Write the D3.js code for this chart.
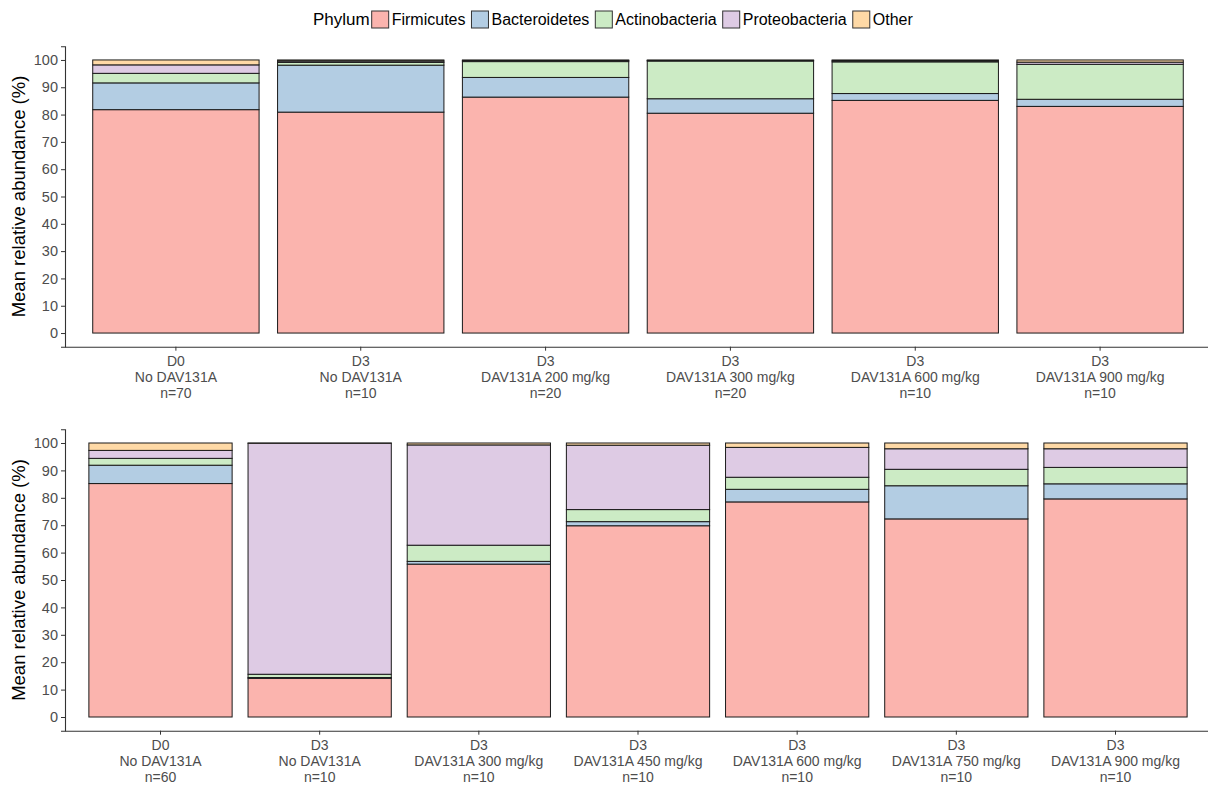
<!DOCTYPE html>
<html>
<head>
<meta charset="utf-8">
<script src="https://cdn.jsdelivr.net/npm/d3@7"></script>
<style>
  body { margin: 0; background: #fff; }
  svg { font-family: "Liberation Sans", Arial, sans-serif; }
</style>
</head>
<body>
<div id="chart"></div>
<script>
// phyla, stacked from the bottom up
var phyla = ["Firmicutes", "Bacteroidetes", "Actinobacteria", "Proteobacteria", "Other"];
var colors = ["#FBB4AE", "#B3CDE3", "#CCEBC5", "#DECBE4", "#FED9A6"];

// top panel groups (day / treatment / n)
var topGroups = [
  ["D0", "No DAV131A", "n=70"],
  ["D3", "No DAV131A", "n=10"],
  ["D3", "DAV131A 200 mg/kg", "n=20"],
  ["D3", "DAV131A 300 mg/kg", "n=20"],
  ["D3", "DAV131A 600 mg/kg", "n=10"],
  ["D3", "DAV131A 900 mg/kg", "n=10"]
];
// mean relative abundance per group, in phyla order
var topValues = [
  [81.8, 9.8, 3.5, 3.1, 1.8],
  [80.9, 17.2, 1.0, 0.5, 0.4],
  [86.4, 7.2, 5.8, 0.4, 0.2],
  [80.5, 5.3, 13.8, 0.2, 0.2],
  [85.2, 2.5, 11.6, 0.4, 0.3],
  [83.0, 2.6, 12.8, 0.8, 0.8]
];

var bottomGroups = [
  ["D0", "No DAV131A", "n=60"],
  ["D3", "No DAV131A", "n=10"],
  ["D3", "DAV131A 300 mg/kg", "n=10"],
  ["D3", "DAV131A 450 mg/kg", "n=10"],
  ["D3", "DAV131A 600 mg/kg", "n=10"],
  ["D3", "DAV131A 750 mg/kg", "n=10"],
  ["D3", "DAV131A 900 mg/kg", "n=10"]
];
var bottomValues = [
  [85.2, 6.7, 2.5, 2.9, 2.7],
  [14.1, 0.3, 1.2, 84.3, 0.1],
  [55.8, 1.0, 5.9, 36.6, 0.7],
  [69.8, 1.5, 4.4, 23.5, 0.8],
  [78.5, 4.6, 4.4, 10.9, 1.6],
  [72.3, 12.1, 6.0, 7.5, 2.1],
  [79.6, 5.5, 6.0, 6.8, 2.1]
];

var yTicks = [0, 10, 20, 30, 40, 50, 60, 70, 80, 90, 100];

var W = 1208, H = 788;
var svg = d3.select("#chart").append("svg")
  .attr("width", W)
  .attr("height", H);

var color = d3.scaleOrdinal().domain(phyla).range(colors);

// draws one stacked-bar panel
function drawPanel(groups, values, top, bottom) {
  var keys = groups.map(function(g, i) { return "g" + i; });
  var rows = values.map(function(v, i) {
    var r = {key: keys[i]};
    phyla.forEach(function(p, j) { r[p] = v[j]; });
    return r;
  });

  var x = d3.scaleBand()
    .domain(keys)
    .range([65, 1211])
    .paddingInner(0.1)
    .paddingOuter(0.15);

  var y = d3.scaleLinear()
    .domain([-5, 105])
    .range([bottom, top]);

  var series = d3.stack().keys(phyla)(rows);

  var g = svg.append("g");

  g.selectAll("g.layer")
    .data(series)
    .enter().append("g")
      .attr("class", "layer")
      .attr("fill", function(d) { return color(d.key); })
    .selectAll("rect")
    .data(function(d) { return d; })
    .enter().append("rect")
      .attr("x", function(d) { return x(d.data.key); })
      .attr("width", x.bandwidth())
      .attr("y", function(d) { return y(d[1]); })
      .attr("height", function(d) { return y(d[0]) - y(d[1]); })
      .attr("stroke", "#1a1a1a")
      .attr("stroke-width", 1);

  // y axis
  var yAxis = g.append("g")
    .attr("transform", "translate(65,0)")
    .call(d3.axisLeft(y).tickValues(yTicks).tickSize(4).tickPadding(3));
  yAxis.select(".domain").attr("stroke", "#333").attr("stroke-width", 1.1);
  yAxis.selectAll(".tick line").attr("stroke", "#333");
  yAxis.selectAll(".tick text")
    .attr("fill", "#4d4d4d")
    .style("font-size", "14.5px");

  // x axis
  var xAxis = g.append("g")
    .attr("transform", "translate(0," + bottom + ")")
    .call(d3.axisBottom(x).tickSize(4).tickSizeOuter(0).tickFormat(""));
  xAxis.select(".domain").attr("stroke", "#333").attr("stroke-width", 1.1);
  xAxis.selectAll(".tick line").attr("stroke", "#333");

  keys.forEach(function(k, i) {
    var t = g.append("text")
      .attr("x", x(k) + x.bandwidth() / 2)
      .attr("y", bottom + 19)
      .attr("text-anchor", "middle")
      .attr("fill", "#4d4d4d")
      .style("font-size", "14px");
    groups[i].forEach(function(line, j) {
      t.append("tspan")
        .attr("x", x(k) + x.bandwidth() / 2)
        .attr("dy", j === 0 ? 0 : 16)
        .text(line);
    });
  });

  // y title
  g.append("text")
    .attr("transform", "translate(25," + ((top + bottom) / 2) + ") rotate(-90)")
    .attr("text-anchor", "middle")
    .attr("fill", "#000")
    .style("font-size", "18.5px")
    .text("Mean relative abundance (%)");
}

drawPanel(topGroups, topValues, 46.3, 346.7);
drawPanel(bottomGroups, bottomValues, 429.3, 730.7);

// legend
var legend = svg.append("g").attr("transform", "translate(313,0)");
var lx = 0;
var title = legend.append("text")
  .attr("x", lx).attr("y", 25)
  .style("font-size", "17px")
  .attr("fill", "#000")
  .text("Phylum");
lx += title.node().getComputedTextLength() + 2;
phyla.forEach(function(p, i) {
  legend.append("rect")
    .attr("x", lx).attr("y", 11)
    .attr("width", 17).attr("height", 17)
    .attr("fill", colors[i])
    .attr("stroke", "#333")
    .attr("stroke-width", 1);
  lx += 20;
  var t = legend.append("text")
    .attr("x", lx).attr("y", 25)
    .style("font-size", "16px")
    .attr("fill", "#000")
    .text(p);
  lx += t.node().getComputedTextLength() + 6;
});
</script>
</body>
</html>
